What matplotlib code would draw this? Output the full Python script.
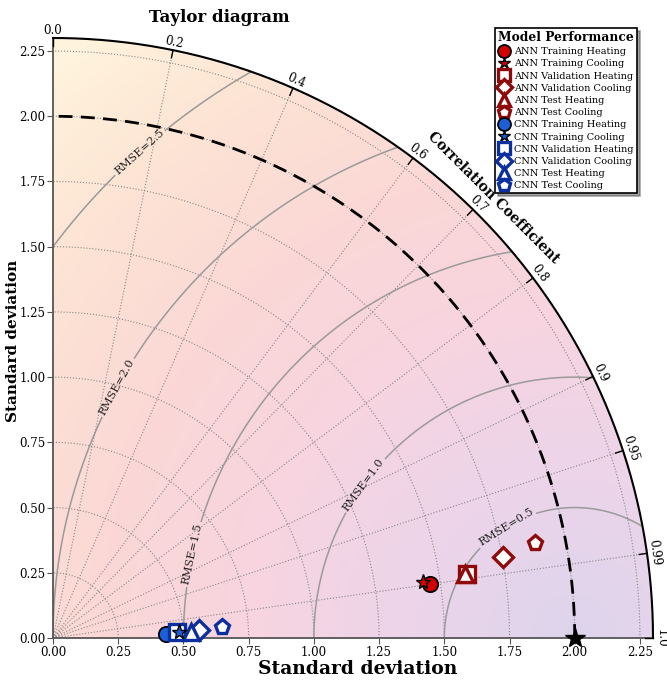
import numpy as np
import matplotlib.pyplot as plt
from matplotlib.colors import LinearSegmentedColormap
from matplotlib.patches import Wedge

plt.rcParams['font.family'] = ['DejaVu Serif']

REF_STD = 2.0   # reference (observed) standard deviation
RMAX = 2.3      # outer radius of the diagram

model_labels = ['ANN Training Heating', 'ANN Training Cooling', 'ANN Validation Heating',
                'ANN Validation Cooling', 'ANN Test Heating', 'ANN Test Cooling',
                'CNN Training Heating', 'CNN Training Cooling', 'CNN Validation Heating',
                'CNN Validation Cooling', 'CNN Test Heating', 'CNN Test Cooling']
model_std = [1.459, 1.436, 1.605, 1.752, 1.599, 1.883,
             0.433, 0.484, 0.476, 0.561, 0.529, 0.648]
model_corr = [0.9897, 0.9887, 0.9883, 0.9840, 0.9882, 0.9810,
              0.9994, 0.9990, 0.9990, 0.9984, 0.9991, 0.9979]

corr_ticks = [0.0, 0.2, 0.4, 0.6, 0.7, 0.8, 0.9, 0.95, 0.99, 1.0]
std_ticks = [0.0, 0.25, 0.5, 0.75, 1.0, 1.25, 1.5, 1.75, 2.0, 2.25]
rmse_levels = [0.5, 1.0, 1.5, 2.0, 2.5]

# marker styles for each model entry
marker_shapes = ['o', '*', 's', 'D', '^', 'p', 'o', '*', 's', 'D', '^', 'p']
ann_red, ann_edge = '#d40000', '#8f0a0a'
cnn_blue, cnn_edge = '#1a5fd6', '#0c2fa0'

fig = plt.figure(figsize=(6.67, 6.84), dpi=100)
ax = fig.add_axes([53 / 667, 46 / 684, 600 / 667, 600 / 684])
ax.set_xlim(0, RMAX)
ax.set_ylim(0, RMAX)

wedge = Wedge((0, 0), RMAX, 0, 90, transform=ax.transData)

# background shaded by centred RMS difference
xx, yy = np.meshgrid(np.linspace(0, RMAX, 400), np.linspace(0, RMAX, 400))
rms = np.hypot(xx - REF_STD, yy)
bg_cmap = LinearSegmentedColormap.from_list(
    'bg', ['#ddd5ec', '#ecd4ea', '#f7d4e0', '#fbd8d6', '#fde4d4', '#fff6de'])
im = ax.imshow(rms, extent=[0, RMAX, 0, RMAX], origin='lower', cmap=bg_cmap,
               vmin=0, vmax=3.05, aspect='auto', zorder=0, interpolation='bilinear')
im.set_clip_path(wedge)

theta = np.linspace(0, np.pi / 2, 300)

# dotted grid: std arcs and correlation rays
for r in std_ticks[1:]:
    ax.plot(r * np.cos(theta), r * np.sin(theta), ls=':', color='#888888', lw=0.8, zorder=1)
for c in corr_ticks[1:-1]:
    a = np.arccos(c)
    ax.plot([0, RMAX * np.cos(a)], [0, RMAX * np.sin(a)], ls=':', color='#888888', lw=0.8, zorder=1)

# RMSE contours around the reference point
cs = ax.contour(xx, yy, rms, levels=rmse_levels, colors='#9a9a9a', linewidths=1.1, zorder=2)
cs.set_clip_path(wedge)
label_spots = [(1.736, 0.425), (1.157, 0.613), (0.513, 0.326), (0.218, 0.977), (0.307, 1.889)]
ax.clabel(cs, fmt={lev: f'RMSE={lev}' for lev in rmse_levels}, manual=label_spots,
          fontsize=8, colors='#222222', inline=True, inline_spacing=2)

# reference std arc
ax.plot(REF_STD * np.cos(theta), REF_STD * np.sin(theta), color='black', lw=2,
        dashes=(5, 3), zorder=3)

# outer arc with correlation ticks and labels
ax.plot(RMAX * np.cos(theta), RMAX * np.sin(theta), color='black', lw=1.5, zorder=3, clip_on=False)
for c in corr_ticks:
    a = np.arccos(c)
    ax.plot([2.27 * np.cos(a), RMAX * np.cos(a)], [2.27 * np.sin(a), RMAX * np.sin(a)],
            color='black', lw=1, zorder=3, clip_on=False)
    ax.text(2.33 * np.cos(a), 2.33 * np.sin(a), f'{c:g}' if c not in (0.0, 1.0) else f'{c:.1f}',
            rotation=np.degrees(a) - 90, rotation_mode='anchor', ha='center', va='center',
            fontsize=8.5)

ax.text(2.385 * np.cos(np.pi / 4), 2.385 * np.sin(np.pi / 4), 'Correlation Coefficient',
        rotation=-45, rotation_mode='anchor', ha='center', va='center',
        fontsize=10, fontweight='bold')

# model points
for i, lab in enumerate(model_labels):
    std, corr = model_std[i], model_corr[i]
    x = std * corr
    y = std * np.sqrt(1 - corr ** 2)
    is_ann = lab.startswith('ANN')
    fill, edge = (ann_red, ann_edge) if is_ann else (cnn_blue, cnn_edge)
    m = marker_shapes[i]
    if m == 'o':
        kw = dict(mfc=fill, mec='black', ms=11, mew=1.3, zorder=5)
    elif m == '*':
        kw = dict(mfc=fill, mec='black', ms=11, mew=1.0, zorder=7)
    else:
        kw = dict(mfc='white', mec=edge, ms=11 if m != 'D' else 10, mew=2.4, zorder=6)
    ax.plot([x], [y], marker=m, ls='none', label=lab, clip_on=False, **kw)

# reference point
ax.plot([REF_STD], [0], marker='*', color='black', ms=15, ls='none', clip_on=False, zorder=8)

for side in ('top', 'right'):
    ax.spines[side].set_visible(False)
for side in ('left', 'bottom'):
    ax.spines[side].set_color('#555555')
    ax.spines[side].set_linewidth(1.3)
ax.set_xticks(std_ticks)
ax.set_yticks(std_ticks)
ax.set_xticklabels([f'{t:.2f}' for t in std_ticks])
ax.set_yticklabels([f'{t:.2f}' for t in std_ticks])
ax.tick_params(labelsize=8.5, direction='out', length=4, color='#555555', pad=2)
ax.tick_params(axis='y', pad=1.5)

fig.text(358 / 667, 1 - 669 / 684, 'Standard deviation', ha='center', va='center',
         fontsize=13.5, fontweight='bold')
fig.text(13 / 667, 1 - 341 / 684, 'Standard deviation', ha='center', va='center',
         rotation=90, fontsize=11, fontweight='bold')
fig.text(219 / 667, 1 - 17 / 684, 'Taylor diagram', ha='center', va='center',
         fontsize=12, fontweight='bold')

leg = ax.legend(title='Model Performance', loc='upper right',
                bbox_to_anchor=(637 / 667, 1 - 28 / 684), bbox_transform=fig.transFigure,
                borderaxespad=0, fontsize=7, title_fontproperties={'weight': 'bold', 'size': 8.8},
                shadow=True, fancybox=False, edgecolor='black', framealpha=1,
                markerscale=0.85, handlelength=1.1, labelspacing=0.33, borderpad=0.3,
                handletextpad=0.45)
leg.get_frame().set_linewidth(1.2)
leg.set_zorder(10)

fig.savefig('out.png', dpi=100)
